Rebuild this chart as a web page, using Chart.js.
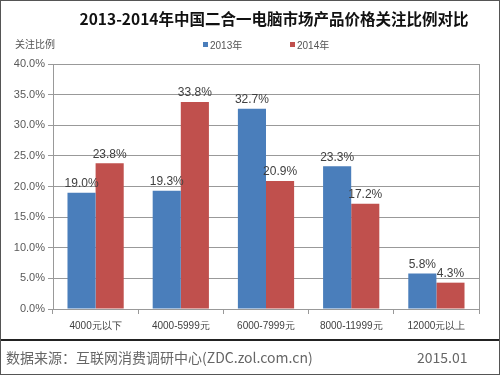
<!DOCTYPE html>
<html>
<head>
<meta charset="utf-8">
<script src="https://cdn.jsdelivr.net/npm/chart.js@4/dist/chart.umd.min.js"></script>
<style>
  html, body { margin: 0; padding: 0; background: #fff; }
  #wrap { position: relative; width: 500px; height: 375px; box-sizing: border-box; border: 1px solid #555; overflow: hidden; }
  #chart { position: absolute; left: 0; top: 0; }
  .txt { position: absolute; white-space: nowrap; font-family: "Noto Sans CJK SC", "DejaVu Sans", sans-serif; }
  #title { left: 0; width: 546px; top: 6px; text-align: center; font-size: 15.5px; font-weight: bold; color: #111; }
  #ytitle { left: 14px; top: 35px; font-size: 10px; color: #555; }
  .leg { top: 36px; font-size: 10px; color: #555; font-family: "Liberation Sans", "Noto Sans CJK SC", sans-serif; }
  .leg i { display: inline-block; width: 5px; height: 5px; margin-right: 2px; vertical-align: 2px; }
  #rule { position: absolute; left: 0; top: 338px; width: 500px; height: 2px; background: #222; }
  #source { left: 5px; top: 346px; font-size: 14px; color: #666; }
  #date { left: 416px; top: 346px; font-size: 14px; color: #666; }
</style>
</head>
<body>
<div id="wrap">
  <canvas id="chart" width="500" height="375"></canvas>
  <div class="txt" id="title">2013-2014年中国二合一电脑市场产品价格关注比例对比</div>
  <div class="txt" id="ytitle">关注比例</div>
  <div class="txt leg" id="leg0" style="left:202px"></div>
  <div class="txt leg" id="leg1" style="left:289px"></div>
  <div id="rule"></div>
  <div class="txt" id="source">数据来源：互联网消费调研中心(ZDC.zol.com.cn)</div>
  <div class="txt" id="date">2015.01</div>
</div>
<script>
const categories = ['4000元以下', '4000-5999元', '6000-7999元', '8000-11999元', '12000元以上']
const values2013 = [19.0, 19.3, 32.7, 23.3, 5.8]
const values2014 = [23.8, 33.8, 20.9, 17.2, 4.3]
const seriesNames = ['2013年', '2014年']
const seriesColors = ['#4a7ebb', '#c0504d']

const labelFont = '"Liberation Sans", "DejaVu Sans", sans-serif'

// legend drawn as html so it does not push the plot down
seriesNames.forEach((name, i) => {
  document.getElementById('leg' + i).innerHTML = '<i style="background:' + seriesColors[i] + '"></i>' + name
})

// value labels above each bar + right edge of plot box
const barLabels = {
  id: 'barLabels',
  afterDatasetsDraw(chart) {
    const ctx = chart.ctx
    const area = chart.chartArea
    ctx.save()
    ctx.strokeStyle = '#999'
    ctx.lineWidth = 1
    ctx.beginPath()
    ctx.moveTo(Math.round(area.right) + 0.5, area.top)
    ctx.lineTo(Math.round(area.right) + 0.5, area.bottom)
    ctx.stroke()

    ctx.font = '12px ' + labelFont
    ctx.fillStyle = '#404040'
    ctx.textAlign = 'center'
    ctx.textBaseline = 'bottom'
    chart.data.datasets.forEach((ds, i) => {
      chart.getDatasetMeta(i).data.forEach((bar, j) => {
        ctx.fillText(ds.data[j].toFixed(1) + '%', bar.x, bar.y - 3)
      })
    })
    ctx.restore()
  }
}

new Chart(document.getElementById('chart'), {
  type: 'bar',
  data: {
    labels: categories,
    datasets: [
      { label: seriesNames[0], data: values2013, backgroundColor: seriesColors[0] },
      { label: seriesNames[1], data: values2014, backgroundColor: seriesColors[1] }
    ]
  },
  options: {
    responsive: false,
    animation: false,
    layout: { padding: { top: 63, right: 22, left: 0, bottom: 0 } },
    datasets: { bar: { barPercentage: 1, categoryPercentage: 0.66 } },
    plugins: {
      title: { display: false },
      tooltip: { enabled: false },
      legend: { display: false }
    },
    scales: {
      x: {
        afterFit(scale) { scale.height = 67 },
        grid: { display: true, drawOnChartArea: false, offset: true, tickLength: 5, color: '#999' },
        border: { color: '#999' },
        ticks: { font: { size: 10, family: labelFont }, color: '#404040', padding: 6, maxRotation: 0, autoSkip: false }
      },
      y: {
        min: 0, max: 40,
        afterFit(scale) { scale.width = 52 },
        grid: { color: '#999', drawTicks: true, tickLength: 5 },
        border: { color: '#999' },
        ticks: {
          stepSize: 5, padding: 3,
          font: { size: 11, family: labelFont }, color: '#595959',
          callback: v => v.toFixed(1) + '%'
        }
      }
    }
  },
  plugins: [barLabels]
})
</script>
</body>
</html>
